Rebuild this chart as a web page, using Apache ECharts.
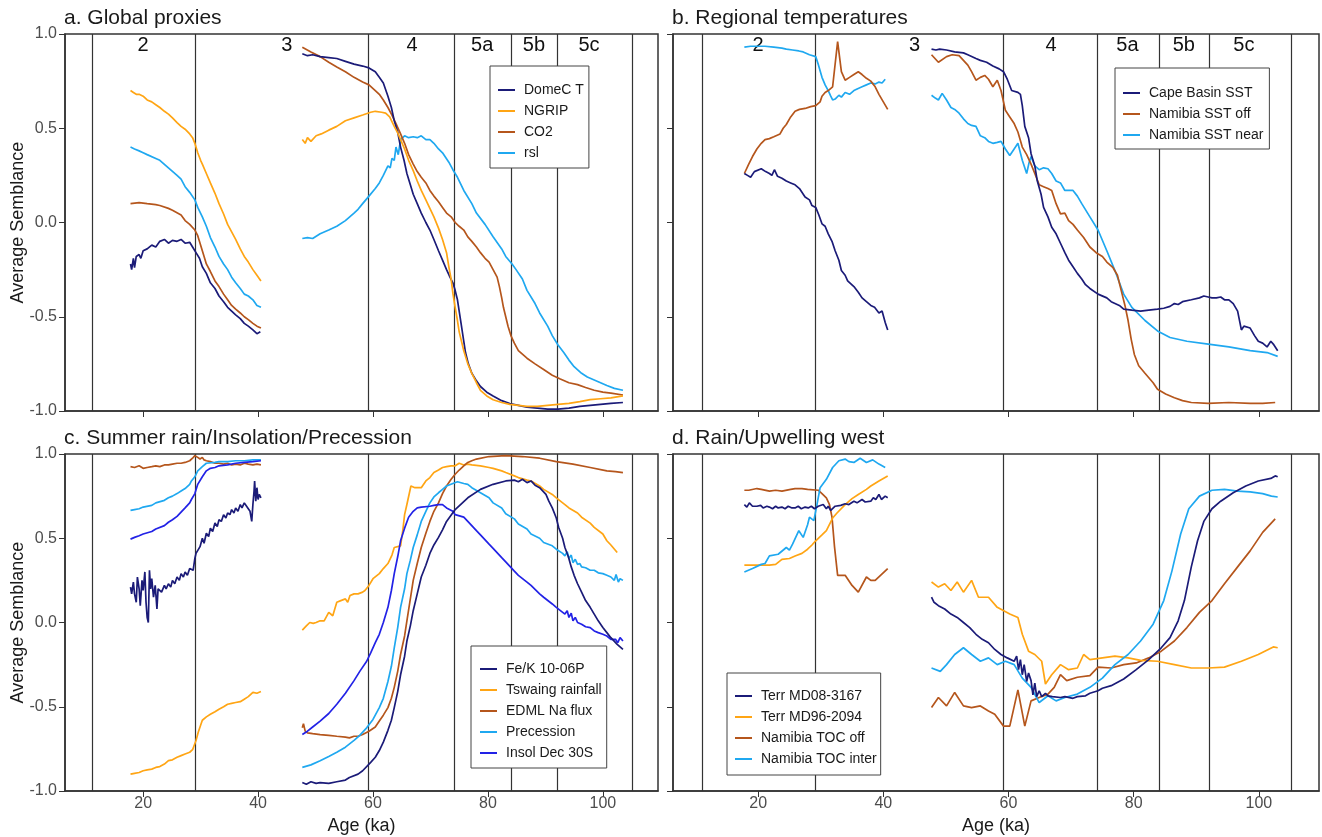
<!DOCTYPE html>
<html><head><meta charset="utf-8">
<script src="https://cdn.jsdelivr.net/npm/echarts@6/dist/echarts.min.js"></script>
<style>html,body{margin:0;padding:0;background:#fff}#c{width:1322px;height:837px}</style>
</head><body><div id="c"></div>
<script>
// ---------- tick labels / stage marks ----------
const xTicks = [20, 40, 60, 80, 100];
const stageLines = [11.1, 29.1, 59.2, 74.1, 84.1, 92.1, 105.2];
const stageNames = ['2', '3', '4', '5a', '5b', '5c'];
const stageLabelX = [20, 45, 66.8, 79, 88, 97.6];

// ---------- a. Global proxies ----------
const domeC1 = [[17.8,-0.22],[18.0,-0.25],[18.3,-0.19],[18.5,-0.24],[18.8,-0.18],[19.3,-0.17],[19.6,-0.19],[20.0,-0.15],[20.7,-0.14],[21.5,-0.12],[22.2,-0.13],[22.9,-0.10],[23.7,-0.09],[24.4,-0.11],[25.1,-0.095],[25.9,-0.10],[26.6,-0.09],[27.3,-0.11],[28.1,-0.105],[28.6,-0.13],[29.2,-0.16],[29.8,-0.19],[30.3,-0.235],[31.0,-0.27],[31.7,-0.32],[32.5,-0.35],[33.2,-0.39],[34.0,-0.42],[34.7,-0.45],[35.4,-0.47],[36.1,-0.49],[36.9,-0.51],[37.6,-0.535],[38.3,-0.55],[39.1,-0.57],[39.8,-0.59],[40.4,-0.58]];
const domeC2 = [[47.7,0.895],[48.6,0.885],[49.5,0.89],[50.8,0.88],[52.3,0.875],[53.7,0.87],[55.2,0.855],[56.7,0.84],[58.2,0.83],[59.3,0.82],[60.4,0.80],[61.1,0.77],[61.8,0.74],[62.6,0.67],[63.2,0.61],[63.7,0.54],[64.3,0.48],[64.8,0.40],[65.4,0.33],[65.9,0.26],[66.5,0.20],[67.0,0.15],[67.7,0.10],[68.4,0.05],[69.2,0.0],[69.9,-0.04],[70.6,-0.09],[71.4,-0.15],[72.1,-0.20],[72.8,-0.25],[73.4,-0.29],[73.9,-0.32],[74.3,-0.36],[74.7,-0.41],[75.0,-0.47],[75.4,-0.55],[75.8,-0.63],[76.1,-0.69],[76.6,-0.75],[77.2,-0.80],[78.0,-0.84],[78.7,-0.87],[79.8,-0.90],[80.9,-0.92],[82.4,-0.945],[83.8,-0.96],[85.3,-0.97],[86.8,-0.98],[88.6,-0.985],[90.4,-0.99],[92.2,-0.99],[94.1,-0.985],[96.0,-0.975],[97.8,-0.97],[99.6,-0.965],[101.4,-0.96],[103.5,-0.955]];
const ngrip1 = [[17.8,0.70],[18.3,0.69],[18.8,0.68],[19.3,0.68],[20.0,0.67],[20.7,0.65],[21.5,0.64],[22.2,0.625],[22.9,0.61],[23.7,0.59],[24.4,0.575],[25.1,0.555],[25.9,0.53],[26.6,0.51],[27.3,0.495],[28.1,0.47],[28.6,0.45],[29.0,0.42],[29.5,0.37],[30.0,0.33],[30.3,0.31],[31.0,0.26],[31.7,0.21],[32.5,0.155],[33.2,0.10],[34.0,0.045],[34.7,-0.01],[35.4,-0.05],[36.1,-0.09],[36.9,-0.14],[37.6,-0.18],[38.3,-0.21],[39.1,-0.25],[39.8,-0.28],[40.5,-0.31]];
const ngrip2 = [[47.7,0.44],[48.2,0.42],[48.6,0.45],[49.2,0.43],[50.1,0.46],[51.0,0.47],[52.3,0.49],[53.7,0.51],[55.2,0.54],[56.7,0.555],[58.2,0.57],[59.6,0.585],[60.4,0.59],[61.5,0.585],[62.2,0.58],[62.9,0.56],[63.7,0.51],[64.3,0.475],[64.8,0.44],[65.5,0.39],[66.2,0.33],[67.0,0.275],[67.7,0.22],[68.4,0.17],[69.2,0.12],[69.9,0.075],[70.6,0.03],[71.4,-0.03],[72.1,-0.09],[72.8,-0.16],[73.2,-0.235],[73.6,-0.30],[73.9,-0.375],[74.3,-0.45],[74.7,-0.52],[75.0,-0.58],[75.8,-0.68],[76.5,-0.75],[77.2,-0.80],[78.0,-0.85],[78.7,-0.89],[79.8,-0.92],[80.9,-0.94],[82.4,-0.955],[83.8,-0.965],[86.8,-0.975],[88.6,-0.975],[90.4,-0.97],[92.2,-0.965],[94.1,-0.96],[96.0,-0.95],[97.8,-0.94],[99.6,-0.935],[101.4,-0.93],[103.5,-0.92]];
const co2_1 = [[17.8,0.10],[19.3,0.105],[20.7,0.10],[22.2,0.095],[22.9,0.09],[24.4,0.075],[25.1,0.065],[26.6,0.04],[27.3,0.01],[28.1,-0.01],[29.0,-0.04],[29.5,-0.07],[29.9,-0.11],[30.3,-0.15],[31.0,-0.22],[31.7,-0.26],[32.5,-0.31],[33.2,-0.34],[34.0,-0.38],[34.7,-0.41],[35.4,-0.44],[36.1,-0.46],[36.9,-0.48],[37.6,-0.50],[38.3,-0.515],[39.1,-0.535],[39.8,-0.55],[40.5,-0.56]];
const co2_2 = [[47.7,0.93],[49.2,0.905],[50.8,0.88],[52.3,0.85],[53.7,0.825],[55.2,0.80],[56.7,0.77],[58.2,0.745],[59.3,0.73],[60.4,0.70],[61.1,0.68],[61.8,0.65],[62.6,0.61],[63.3,0.57],[64.0,0.525],[64.8,0.47],[65.5,0.42],[66.2,0.36],[67.0,0.31],[67.7,0.27],[68.4,0.24],[69.2,0.21],[69.9,0.17],[70.6,0.14],[71.4,0.11],[72.1,0.08],[72.8,0.05],[73.6,0.03],[74.3,0.0],[75.0,-0.02],[75.8,-0.04],[76.5,-0.076],[77.2,-0.10],[78.0,-0.13],[78.7,-0.16],[79.5,-0.19],[80.2,-0.21],[80.9,-0.25],[81.6,-0.29],[82.0,-0.34],[82.4,-0.40],[82.7,-0.45],[83.1,-0.50],[83.5,-0.55],[84.0,-0.60],[84.6,-0.64],[85.3,-0.68],[86.8,-0.72],[88.2,-0.75],[89.7,-0.78],[91.2,-0.81],[92.6,-0.83],[94.1,-0.85],[95.6,-0.86],[97.0,-0.875],[98.5,-0.89],[100.0,-0.90],[101.4,-0.905],[103.5,-0.915]];
const rsl1 = [[17.8,0.40],[18.5,0.39],[19.3,0.38],[20.0,0.37],[20.7,0.36],[22.2,0.34],[22.9,0.33],[24.4,0.29],[25.9,0.25],[26.6,0.23],[27.3,0.19],[28.1,0.16],[29.0,0.12],[29.5,0.08],[30.3,0.03],[31.0,-0.02],[31.7,-0.08],[32.5,-0.13],[33.2,-0.18],[34.0,-0.22],[34.7,-0.25],[35.4,-0.29],[36.1,-0.32],[36.9,-0.35],[37.6,-0.38],[38.3,-0.39],[39.1,-0.41],[39.8,-0.44],[40.5,-0.45]];
const rsl2 = [[47.7,-0.085],[48.6,-0.08],[49.5,-0.085],[50.8,-0.06],[52.3,-0.04],[53.7,-0.02],[55.2,0.01],[56.7,0.05],[57.4,0.07],[58.2,0.10],[59.3,0.14],[60.4,0.18],[61.1,0.21],[61.8,0.25],[62.6,0.30],[63.0,0.29],[63.3,0.34],[63.7,0.33],[64.0,0.40],[64.4,0.36],[64.8,0.44],[65.5,0.46],[66.2,0.45],[67.0,0.455],[67.7,0.45],[68.4,0.46],[69.2,0.44],[69.9,0.44],[70.6,0.42],[71.4,0.39],[72.1,0.37],[73.2,0.32],[73.9,0.28],[74.7,0.24],[75.8,0.17],[77.2,0.10],[78.0,0.05],[79.5,-0.01],[80.9,-0.076],[82.4,-0.14],[83.1,-0.18],[84.2,-0.22],[84.9,-0.25],[86.0,-0.30],[86.8,-0.36],[88.2,-0.43],[89.0,-0.48],[90.4,-0.55],[91.2,-0.60],[92.2,-0.65],[93.2,-0.69],[94.1,-0.73],[95.0,-0.765],[96.3,-0.80],[97.3,-0.82],[99.2,-0.845],[100.7,-0.865],[102.0,-0.88],[103.5,-0.89]];

// ---------- b. Regional temperatures ----------
const cape1 = [[17.8,0.26],[18.3,0.25],[18.8,0.24],[19.4,0.27],[20.5,0.285],[21.2,0.27],[21.8,0.26],[22.2,0.25],[22.6,0.28],[23.1,0.245],[23.8,0.235],[24.5,0.22],[25.2,0.21],[25.9,0.20],[26.6,0.18],[27.5,0.135],[28.2,0.12],[28.6,0.09],[29.2,0.08],[29.7,0.04],[30.2,-0.007],[30.7,-0.02],[31.2,-0.06],[31.8,-0.10],[32.3,-0.15],[32.9,-0.20],[33.3,-0.255],[33.9,-0.28],[34.3,-0.31],[35.3,-0.34],[36.0,-0.37],[36.6,-0.40],[37.3,-0.42],[38.0,-0.44],[38.6,-0.45],[39.3,-0.48],[39.8,-0.47],[40.3,-0.53],[40.7,-0.57]];
const cape2 = [[47.7,0.92],[48.4,0.915],[49.0,0.92],[50.1,0.915],[51.4,0.905],[52.8,0.90],[53.5,0.89],[54.8,0.87],[55.5,0.86],[56.5,0.85],[57.5,0.83],[58.5,0.815],[59.2,0.80],[59.8,0.76],[60.5,0.70],[61.5,0.69],[61.9,0.68],[62.2,0.62],[62.6,0.51],[63.2,0.45],[63.6,0.365],[64.2,0.30],[64.6,0.22],[65.2,0.15],[65.6,0.08],[66.3,0.03],[66.9,-0.025],[67.6,-0.06],[68.3,-0.11],[69.0,-0.16],[69.6,-0.20],[70.3,-0.235],[71.0,-0.27],[71.7,-0.30],[72.3,-0.33],[73.0,-0.35],[74.3,-0.38],[75.7,-0.40],[76.4,-0.42],[77.7,-0.44],[78.4,-0.46],[79.7,-0.465],[81.1,-0.47],[82.4,-0.465],[83.8,-0.46],[84.8,-0.455],[85.8,-0.445],[86.5,-0.43],[87.1,-0.435],[87.8,-0.42],[89.2,-0.41],[90.5,-0.40],[91.2,-0.39],[91.9,-0.395],[92.5,-0.40],[93.2,-0.40],[93.9,-0.395],[94.5,-0.41],[95.2,-0.41],[95.9,-0.43],[96.6,-0.47],[97.2,-0.57],[97.6,-0.55],[97.9,-0.56],[98.6,-0.56],[99.3,-0.60],[99.9,-0.63],[100.6,-0.64],[101.3,-0.66],[101.9,-0.63],[102.3,-0.645],[103.0,-0.68]];
const sstOff1 = [[17.8,0.26],[18.5,0.31],[19.1,0.35],[19.8,0.39],[20.5,0.42],[21.1,0.44],[21.8,0.445],[22.5,0.455],[23.5,0.47],[24.0,0.50],[24.5,0.52],[25.2,0.56],[25.9,0.59],[26.6,0.60],[27.5,0.605],[28.4,0.615],[29.2,0.62],[29.9,0.64],[30.2,0.67],[30.7,0.69],[31.2,0.70],[31.9,0.72],[32.7,0.96],[33.3,0.80],[33.9,0.755],[34.6,0.77],[35.3,0.785],[36.0,0.80],[36.6,0.785],[37.3,0.765],[38.0,0.75],[38.7,0.72],[39.3,0.68],[40.0,0.64],[40.7,0.60]];
const sstOff2 = [[47.7,0.89],[48.8,0.85],[50.1,0.88],[51.0,0.89],[52.1,0.885],[52.8,0.86],[53.5,0.835],[54.1,0.80],[54.8,0.755],[55.5,0.77],[56.2,0.78],[56.8,0.76],[57.5,0.72],[58.2,0.755],[58.8,0.70],[59.5,0.595],[60.2,0.56],[60.9,0.525],[61.5,0.48],[62.2,0.40],[62.9,0.36],[63.6,0.31],[64.2,0.26],[64.9,0.20],[65.6,0.19],[66.3,0.18],[66.9,0.17],[67.6,0.10],[68.3,0.046],[69.0,0.05],[69.6,0.01],[70.3,-0.01],[71.0,-0.04],[72.0,-0.08],[73.0,-0.13],[74.0,-0.16],[75.0,-0.18],[75.7,-0.21],[76.7,-0.24],[77.4,-0.28],[78.0,-0.36],[78.6,-0.44],[79.1,-0.52],[79.6,-0.62],[80.1,-0.70],[80.8,-0.76],[81.8,-0.80],[83.1,-0.85],[83.8,-0.885],[85.1,-0.91],[86.5,-0.93],[87.8,-0.945],[89.2,-0.955],[91.9,-0.96],[95.2,-0.955],[98.6,-0.96],[100.6,-0.96],[102.6,-0.955]];
const sstNear1 = [[17.8,0.93],[18.8,0.935],[19.8,0.935],[21.1,0.935],[22.5,0.93],[23.8,0.925],[24.5,0.92],[25.5,0.915],[26.5,0.91],[27.2,0.905],[28.2,0.89],[29.2,0.88],[29.6,0.84],[30.2,0.77],[30.7,0.73],[31.2,0.70],[31.6,0.67],[31.9,0.65],[32.3,0.655],[32.9,0.675],[33.3,0.665],[33.9,0.69],[34.6,0.68],[35.3,0.70],[35.9,0.71],[36.6,0.72],[37.3,0.73],[38.0,0.74],[38.7,0.735],[39.3,0.745],[39.8,0.74],[40.3,0.76]];
const sstNear2 = [[47.7,0.675],[48.3,0.66],[48.8,0.65],[49.4,0.685],[50.1,0.65],[50.8,0.61],[51.4,0.60],[52.1,0.58],[52.8,0.55],[53.5,0.525],[54.1,0.515],[54.8,0.51],[55.5,0.46],[56.2,0.45],[56.8,0.43],[57.5,0.42],[58.2,0.425],[58.8,0.43],[59.5,0.39],[60.2,0.355],[60.9,0.39],[61.5,0.42],[62.2,0.33],[62.9,0.26],[63.3,0.32],[63.6,0.35],[64.2,0.30],[64.9,0.28],[65.6,0.29],[66.3,0.285],[66.9,0.26],[67.6,0.22],[68.3,0.21],[69.0,0.17],[70.3,0.17],[71.0,0.14],[71.7,0.10],[73.0,0.03],[74.3,-0.04],[75.7,-0.15],[77.0,-0.255],[78.4,-0.38],[79.7,-0.45],[81.8,-0.52],[83.8,-0.575],[85.8,-0.61],[88.5,-0.63],[91.9,-0.645],[95.2,-0.66],[98.6,-0.68],[101.3,-0.69],[103.0,-0.71]];

// ---------- c. Summer rain / Insolation / Precession ----------
const feK1 = [[17.8,0.21],[18.0,0.17],[18.3,0.24],[18.5,0.17],[18.8,0.12],[19.0,0.27],[19.3,0.20],[19.5,0.10],[19.8,0.25],[20.0,0.19],[20.3,0.30],[20.5,0.12],[20.7,0.03],[20.9,0.0],[21.1,0.31],[21.3,0.20],[21.5,0.26],[21.8,0.15],[22.1,0.22],[22.4,0.08],[22.6,0.20],[22.9,0.21],[23.2,0.18],[23.7,0.22],[24.0,0.20],[24.4,0.23],[24.8,0.21],[25.1,0.25],[25.5,0.23],[25.9,0.27],[26.3,0.25],[26.6,0.29],[27.0,0.27],[27.3,0.30],[27.7,0.28],[28.1,0.32],[28.4,0.33],[28.7,0.31],[29.0,0.38],[29.2,0.41],[29.5,0.40],[29.9,0.45],[30.3,0.50],[30.6,0.47],[31.0,0.53],[31.4,0.51],[31.7,0.56],[32.1,0.54],[32.5,0.59],[32.9,0.57],[33.2,0.61],[33.6,0.60],[34.0,0.64],[34.4,0.62],[34.7,0.65],[35.1,0.64],[35.4,0.67],[35.8,0.65],[36.1,0.68],[36.5,0.66],[36.9,0.70],[37.2,0.68],[37.6,0.71],[38.0,0.69],[38.3,0.70],[38.6,0.66],[38.9,0.60],[39.1,0.70],[39.3,0.78],[39.4,0.84],[39.6,0.72],[39.8,0.80],[40.0,0.73],[40.2,0.76],[40.5,0.74]];
const feK2 = [[47.7,-0.95],[48.4,-0.96],[49.2,-0.945],[50.1,-0.955],[50.8,-0.95],[52.3,-0.955],[53.7,-0.945],[55.2,-0.935],[55.9,-0.92],[57.4,-0.90],[58.2,-0.88],[59.6,-0.83],[60.4,-0.80],[61.1,-0.76],[61.8,-0.71],[62.6,-0.64],[63.2,-0.58],[63.7,-0.505],[64.3,-0.41],[64.8,-0.31],[65.5,-0.20],[65.9,-0.11],[66.5,-0.02],[67.0,0.07],[67.7,0.17],[68.4,0.27],[69.2,0.34],[69.9,0.41],[70.6,0.46],[71.4,0.505],[72.1,0.55],[72.8,0.60],[74.3,0.67],[76.5,0.74],[78.7,0.79],[80.9,0.82],[83.1,0.84],[84.6,0.845],[85.3,0.835],[86.0,0.85],[86.8,0.83],[87.5,0.84],[88.2,0.815],[89.0,0.80],[90.1,0.76],[90.6,0.72],[91.2,0.68],[91.9,0.62],[92.3,0.565],[93.0,0.50],[93.4,0.445],[94.0,0.39],[94.5,0.33],[95.0,0.28],[95.6,0.23],[96.3,0.18],[97.0,0.13],[97.8,0.09],[98.5,0.05],[99.2,0.01],[100.0,-0.03],[100.7,-0.06],[101.4,-0.09],[102.5,-0.13],[103.5,-0.16]];
const tswaing1 = [[17.8,-0.90],[18.5,-0.895],[19.3,-0.89],[20.0,-0.88],[20.7,-0.875],[21.5,-0.87],[22.2,-0.86],[22.9,-0.855],[23.7,-0.84],[24.4,-0.82],[25.1,-0.815],[25.9,-0.80],[26.6,-0.79],[27.3,-0.78],[28.1,-0.77],[28.6,-0.755],[29.2,-0.70],[29.6,-0.65],[30.0,-0.61],[30.3,-0.58],[31.0,-0.56],[31.7,-0.545],[32.5,-0.53],[33.2,-0.515],[34.0,-0.50],[34.7,-0.485],[35.4,-0.48],[36.1,-0.475],[36.9,-0.47],[37.6,-0.455],[38.3,-0.44],[39.1,-0.415],[39.8,-0.42],[40.5,-0.41]];
const tswaing2 = [[47.7,-0.045],[48.4,-0.02],[49.0,0.0],[49.6,-0.005],[50.1,0.0],[50.8,0.01],[51.5,0.01],[52.3,0.06],[53.0,0.04],[53.7,0.12],[54.4,0.13],[55.2,0.14],[55.6,0.12],[56.0,0.16],[56.7,0.17],[57.4,0.17],[58.2,0.18],[58.6,0.19],[59.3,0.22],[60.0,0.26],[61.1,0.29],[61.8,0.32],[62.6,0.35],[63.3,0.40],[63.7,0.445],[64.8,0.455],[65.2,0.55],[65.5,0.64],[65.9,0.70],[66.6,0.81],[67.3,0.80],[68.4,0.80],[69.2,0.84],[69.9,0.86],[70.6,0.89],[71.4,0.905],[72.1,0.92],[72.8,0.925],[73.6,0.93],[74.3,0.93],[75.0,0.945],[75.8,0.935],[76.5,0.94],[77.2,0.935],[78.7,0.93],[80.2,0.92],[80.9,0.915],[82.4,0.90],[83.1,0.89],[84.6,0.87],[85.3,0.86],[86.8,0.845],[87.5,0.84],[89.0,0.81],[89.7,0.79],[91.2,0.76],[91.9,0.74],[93.4,0.70],[94.1,0.68],[95.6,0.65],[96.3,0.625],[97.8,0.59],[98.5,0.565],[100.0,0.525],[100.7,0.485],[101.4,0.46],[102.5,0.415]];
const edml1 = [[17.8,0.925],[18.5,0.92],[19.3,0.93],[20.0,0.915],[20.7,0.92],[21.5,0.925],[22.2,0.93],[22.9,0.925],[23.7,0.935],[24.4,0.935],[25.1,0.94],[25.9,0.945],[26.6,0.945],[27.3,0.95],[28.1,0.96],[28.6,0.975],[29.0,0.99],[29.2,0.985],[29.5,0.98],[29.9,0.97],[30.3,0.98],[30.6,0.965],[31.0,0.96],[31.7,0.955],[32.5,0.945],[33.2,0.945],[34.0,0.94],[34.7,0.945],[35.4,0.935],[36.1,0.94],[36.9,0.935],[37.6,0.945],[38.3,0.94],[39.1,0.935],[39.8,0.94],[40.5,0.935]];
const edml2 = [[47.7,-0.625],[47.9,-0.60],[48.2,-0.645],[48.6,-0.655],[49.5,-0.66],[50.8,-0.665],[52.3,-0.67],[53.7,-0.675],[55.2,-0.68],[55.9,-0.685],[56.7,-0.675],[57.4,-0.675],[58.2,-0.665],[59.3,-0.645],[60.4,-0.62],[61.1,-0.585],[61.8,-0.55],[62.6,-0.505],[63.2,-0.45],[63.7,-0.385],[64.3,-0.29],[64.8,-0.19],[65.5,-0.08],[65.9,0.01],[66.5,0.14],[67.0,0.25],[67.7,0.35],[68.4,0.445],[69.2,0.53],[69.9,0.60],[70.6,0.66],[71.4,0.71],[72.1,0.765],[72.8,0.81],[73.6,0.85],[74.3,0.88],[75.0,0.905],[75.8,0.93],[76.5,0.95],[77.2,0.96],[78.0,0.97],[80.2,0.985],[83.1,0.99],[86.0,0.985],[89.0,0.975],[91.9,0.955],[94.8,0.94],[97.8,0.92],[100.7,0.90],[102.2,0.895],[103.5,0.89]];
const prec1 = [[17.8,0.665],[18.5,0.67],[19.3,0.675],[20.0,0.685],[21.5,0.695],[22.2,0.71],[23.7,0.725],[24.4,0.74],[25.1,0.75],[25.9,0.765],[26.6,0.78],[27.3,0.795],[28.1,0.82],[28.4,0.84],[29.0,0.865],[29.5,0.90],[30.3,0.925],[31.0,0.945],[32.5,0.95],[33.2,0.955],[34.7,0.955],[36.1,0.96],[37.6,0.96],[39.1,0.965],[40.5,0.965]];
const prec2 = [[47.7,-0.86],[49.2,-0.845],[50.8,-0.82],[52.3,-0.795],[53.7,-0.77],[55.2,-0.74],[56.7,-0.70],[57.7,-0.67],[58.9,-0.625],[60.0,-0.575],[61.1,-0.505],[61.8,-0.45],[62.6,-0.35],[63.2,-0.26],[63.7,-0.15],[64.3,-0.03],[64.8,0.09],[65.5,0.20],[65.9,0.29],[66.5,0.37],[67.0,0.445],[67.7,0.52],[68.4,0.60],[69.2,0.66],[69.9,0.71],[70.6,0.745],[71.4,0.77],[72.1,0.79],[72.8,0.81],[73.9,0.825],[74.7,0.835],[75.8,0.825],[76.5,0.82],[77.2,0.80],[78.7,0.77],[80.2,0.74],[80.9,0.71],[82.4,0.68],[83.1,0.645],[84.6,0.615],[85.3,0.585],[86.8,0.555],[87.5,0.525],[89.0,0.50],[89.7,0.475],[91.2,0.455],[91.9,0.435],[93.0,0.41],[93.4,0.395],[93.8,0.42],[94.1,0.38],[94.5,0.40],[94.8,0.355],[95.2,0.375],[95.6,0.345],[96.0,0.35],[96.3,0.33],[97.0,0.325],[97.8,0.31],[98.5,0.31],[99.2,0.295],[100.0,0.29],[100.7,0.28],[101.4,0.27],[102.0,0.25],[102.3,0.285],[102.7,0.24],[103.0,0.26],[103.5,0.25]];
const insol1 = [[17.8,0.495],[18.5,0.505],[19.3,0.515],[20.0,0.525],[21.5,0.54],[22.2,0.555],[23.7,0.575],[24.4,0.595],[25.1,0.61],[25.9,0.63],[26.6,0.655],[27.3,0.68],[28.1,0.71],[28.4,0.73],[29.0,0.765],[29.5,0.82],[30.3,0.865],[31.0,0.90],[31.7,0.915],[32.5,0.92],[33.2,0.93],[34.7,0.935],[36.1,0.945],[37.6,0.95],[39.1,0.955],[40.5,0.96]];
const insol2 = [[47.7,-0.665],[48.6,-0.645],[49.5,-0.62],[50.8,-0.585],[52.3,-0.54],[53.7,-0.485],[55.2,-0.42],[56.7,-0.345],[57.7,-0.29],[58.9,-0.23],[59.6,-0.18],[60.4,-0.12],[61.1,-0.07],[61.8,0.0],[62.6,0.09],[63.2,0.19],[63.7,0.29],[64.3,0.39],[64.8,0.485],[65.5,0.56],[66.2,0.625],[67.0,0.66],[67.7,0.68],[68.4,0.685],[69.9,0.69],[70.6,0.695],[71.4,0.70],[72.1,0.70],[72.8,0.68],[73.9,0.66],[74.3,0.64],[75.8,0.625],[76.5,0.60],[78.0,0.545],[78.7,0.52],[80.2,0.465],[80.9,0.44],[82.4,0.385],[83.1,0.36],[84.6,0.305],[85.3,0.28],[86.8,0.24],[87.5,0.22],[89.0,0.17],[89.7,0.15],[91.2,0.11],[91.9,0.09],[93.4,0.05],[93.8,0.07],[94.1,0.03],[94.5,0.055],[94.8,0.01],[95.2,0.03],[95.6,0.0],[96.3,-0.01],[97.0,-0.025],[97.8,-0.03],[98.5,-0.05],[99.2,-0.06],[100.0,-0.07],[100.7,-0.08],[101.4,-0.10],[102.2,-0.10],[102.6,-0.12],[103.0,-0.09],[103.5,-0.11]];

// ---------- d. Rain / Upwelling west ----------
const md08_1 = [[17.8,0.70],[18.2,0.685],[18.6,0.71],[19.1,0.69],[19.8,0.69],[20.4,0.695],[20.8,0.68],[21.4,0.69],[21.8,0.685],[22.3,0.675],[22.8,0.69],[23.2,0.68],[23.8,0.685],[24.3,0.675],[24.8,0.69],[25.4,0.68],[25.9,0.68],[26.4,0.69],[26.9,0.675],[27.5,0.685],[28.0,0.68],[28.5,0.69],[29.0,0.675],[29.6,0.69],[29.9,0.68],[30.4,0.70],[30.9,0.675],[31.2,0.69],[31.6,0.665],[31.9,0.67],[32.3,0.69],[32.6,0.685],[33.2,0.695],[33.9,0.705],[34.5,0.70],[35.3,0.72],[35.8,0.71],[36.6,0.73],[37.1,0.715],[38.0,0.72],[38.4,0.74],[38.8,0.73],[39.3,0.76],[39.7,0.73],[40.3,0.75],[40.7,0.74]];
const md08_2 = [[47.7,0.15],[48.1,0.12],[48.8,0.10],[49.8,0.08],[50.8,0.05],[51.8,0.03],[52.8,0.0],[53.8,-0.03],[54.8,-0.07],[55.8,-0.10],[56.8,-0.12],[57.8,-0.16],[58.8,-0.19],[59.8,-0.21],[60.9,-0.23],[61.3,-0.20],[61.6,-0.28],[61.9,-0.22],[62.2,-0.31],[62.5,-0.25],[62.9,-0.35],[63.2,-0.30],[63.6,-0.345],[63.9,-0.43],[64.2,-0.36],[64.5,-0.44],[64.9,-0.405],[65.3,-0.44],[65.9,-0.42],[66.3,-0.435],[67.0,-0.44],[68.3,-0.445],[69.0,-0.44],[70.3,-0.45],[71.0,-0.44],[72.3,-0.435],[73.0,-0.42],[74.3,-0.405],[75.0,-0.39],[76.4,-0.375],[78.4,-0.335],[80.4,-0.28],[82.4,-0.22],[84.4,-0.15],[85.8,-0.09],[87.1,0.01],[88.1,0.13],[89.2,0.33],[90.2,0.485],[91.2,0.60],[92.5,0.675],[93.9,0.72],[95.9,0.77],[97.9,0.81],[99.9,0.84],[101.9,0.855],[102.6,0.87],[103.0,0.865]];
const md96_1 = [[17.8,0.34],[19.8,0.34],[21.8,0.34],[22.8,0.345],[23.8,0.375],[25.0,0.38],[25.9,0.395],[27.0,0.41],[27.9,0.435],[28.6,0.46],[29.2,0.485],[30.2,0.52],[30.9,0.545],[31.9,0.62],[32.6,0.65],[33.9,0.70],[35.0,0.735],[36.0,0.76],[37.3,0.79],[38.0,0.81],[39.3,0.84],[40.7,0.87]];
const md96_2 = [[47.7,0.24],[48.8,0.21],[49.8,0.23],[50.8,0.19],[51.8,0.24],[52.8,0.18],[54.1,0.25],[55.2,0.15],[56.8,0.15],[58.2,0.09],[60.2,0.05],[61.5,0.03],[62.2,-0.07],[63.2,-0.17],[64.2,-0.19],[65.3,-0.23],[65.9,-0.365],[66.9,-0.31],[68.3,-0.25],[69.6,-0.28],[71.0,-0.27],[72.0,-0.19],[73.0,-0.22],[75.0,-0.21],[77.0,-0.20],[79.1,-0.21],[81.1,-0.225],[83.8,-0.23],[86.5,-0.25],[89.2,-0.27],[91.9,-0.27],[94.5,-0.265],[97.2,-0.23],[99.9,-0.19],[102.3,-0.145],[103.0,-0.15]];
const tocOff1 = [[17.8,0.785],[18.5,0.785],[19.8,0.795],[20.5,0.79],[21.8,0.78],[22.8,0.785],[23.8,0.78],[25.2,0.79],[25.9,0.795],[27.0,0.795],[27.9,0.79],[29.6,0.785],[30.2,0.765],[30.9,0.74],[31.4,0.70],[31.8,0.625],[32.2,0.45],[32.7,0.28],[33.9,0.28],[35.0,0.22],[36.0,0.18],[37.3,0.27],[38.0,0.25],[38.7,0.25],[40.7,0.32]];
const tocOff2 = [[47.7,-0.505],[48.8,-0.445],[50.1,-0.495],[51.4,-0.415],[52.8,-0.495],[54.1,-0.505],[55.5,-0.495],[56.8,-0.525],[57.8,-0.545],[59.2,-0.615],[60.2,-0.615],[61.5,-0.40],[62.6,-0.615],[63.6,-0.465],[64.9,-0.445],[66.3,-0.425],[67.3,-0.385],[68.3,-0.31],[69.3,-0.345],[71.0,-0.325],[73.0,-0.315],[74.3,-0.265],[76.4,-0.27],[78.4,-0.25],[80.4,-0.24],[82.4,-0.21],[84.4,-0.17],[86.5,-0.11],[88.5,-0.03],[90.5,0.06],[92.5,0.13],[94.5,0.23],[96.6,0.33],[98.6,0.425],[100.6,0.535],[102.6,0.615]];
const tocInt1 = [[17.8,0.30],[19.1,0.32],[20.5,0.345],[21.1,0.35],[21.8,0.395],[23.2,0.405],[24.5,0.445],[25.0,0.43],[25.5,0.465],[26.5,0.545],[27.2,0.505],[27.9,0.58],[28.2,0.625],[28.9,0.605],[29.4,0.70],[29.9,0.80],[30.9,0.85],[31.9,0.92],[32.9,0.96],[33.9,0.97],[34.5,0.955],[35.3,0.95],[36.3,0.975],[37.3,0.95],[38.3,0.965],[39.3,0.94],[40.3,0.92]];
const tocInt2 = [[47.7,-0.27],[49.1,-0.29],[50.1,-0.25],[51.4,-0.19],[52.8,-0.15],[54.1,-0.19],[55.5,-0.23],[56.8,-0.21],[58.2,-0.25],[59.5,-0.23],[60.9,-0.25],[62.2,-0.33],[63.6,-0.385],[64.9,-0.475],[66.3,-0.435],[67.6,-0.465],[69.0,-0.445],[71.0,-0.425],[73.0,-0.385],[75.0,-0.33],[77.0,-0.25],[79.1,-0.19],[81.1,-0.11],[83.1,-0.01],[84.8,0.13],[86.1,0.305],[87.5,0.525],[88.8,0.675],[90.5,0.75],[92.5,0.785],[94.5,0.79],[96.6,0.78],[98.6,0.775],[100.6,0.765],[102.0,0.75],[103.0,0.745]];

// ---------- styling ----------
const FONT = 'Liberation Sans, Arial, sans-serif';
const NAVY = '#1b1b78', ORANGE = '#ffa514', BROWN = '#b5561c', SKY = '#1fa8f0', BLUE = '#2222e6';

const panels = [
  { title: 'a. Global proxies', grid: {left: 65, top: 34, width: 593, height: 377},
    series: [['rsl', SKY, [rsl1, rsl2]], ['CO2', BROWN, [co2_1, co2_2]], ['DomeC T', NAVY, [domeC1, domeC2]], ['NGRIP', ORANGE, [ngrip1, ngrip2]]],
    legendNames: ['DomeC T', 'NGRIP', 'CO2', 'rsl'], legendPos: {left: 490, top: 66, padding: [17, 5, 8, 8]} },
  { title: 'b. Regional temperatures', grid: {left: 673, top: 34, width: 646, height: 377},
    series: [['Namibia SST near', SKY, [sstNear1, sstNear2]], ['Namibia SST off', BROWN, [sstOff1, sstOff2]], ['Cape Basin SST', NAVY, [cape1, cape2]]],
    legendNames: ['Cape Basin SST', 'Namibia SST off', 'Namibia SST near'], legendPos: {left: 1115, top: 68, padding: [18, 6, 7, 8]} },
  { title: 'c. Summer rain/Insolation/Precession', grid: {left: 65, top: 454, width: 593, height: 337},
    series: [['Tswaing rainfall', ORANGE, [tswaing1, tswaing2]], ['EDML Na flux', BROWN, [edml1, edml2]], ['Precession', SKY, [prec1, prec2]], ['Insol Dec 30S', BLUE, [insol1, insol2]], ['Fe/K 10-06P', NAVY, [feK1, feK2]]],
    legendNames: ['Fe/K 10-06P', 'Tswaing rainfall', 'EDML Na flux', 'Precession', 'Insol Dec 30S'], legendPos: {left: 471, top: 646, padding: [16, 5, 8, 9]} },
  { title: 'd. Rain/Upwelling west', grid: {left: 673, top: 454, width: 646, height: 337},
    series: [['Namibia TOC off', BROWN, [tocOff1, tocOff2]], ['Terr MD96-2094', ORANGE, [md96_1, md96_2]], ['Namibia TOC inter', SKY, [tocInt1, tocInt2]], ['Terr MD08-3167', NAVY, [md08_1, md08_2]]],
    legendNames: ['Terr MD08-3167', 'Terr MD96-2094', 'Namibia TOC off', 'Namibia TOC inter'], legendPos: {left: 727, top: 673, padding: [16, 4, 9, 8]} }
];

const grid = [], xAxis = [], yAxis = [], series = [], legend = [], graphic = [];
panels.forEach((p, i) => {
  grid.push(Object.assign({show: true, borderColor: '#333', borderWidth: 1.5, backgroundColor: 'transparent', containLabel: false, outerBoundsMode: 'none'}, p.grid));
  xAxis.push({
    gridIndex: i, type: 'value', min: 6.4, max: 109.6,
    splitLine: {show: false},
    axisLine: {show: true, onZero: false, lineStyle: {color: '#333', width: 1.5}},
    axisTick: {show: true, customValues: xTicks, length: 6, lineStyle: {color: '#333'}},
    axisLabel: {show: i >= 2, customValues: xTicks, fontSize: 16, color: '#4d4d4d', fontFamily: FONT, margin: 5},
    name: i >= 2 ? 'Age (ka)' : '', nameLocation: 'middle', nameGap: 26,
    nameTextStyle: {fontSize: 18, color: '#1a1a1a', fontFamily: FONT}
  });
  yAxis.push({
    gridIndex: i, type: 'value', min: -1, max: 1, interval: 0.5,
    splitLine: {show: false},
    axisLine: {show: true, onZero: false, lineStyle: {color: '#333', width: 1.5}},
    axisTick: {show: true, length: 6, lineStyle: {color: '#333'}},
    axisLabel: {show: i % 2 === 0, fontSize: 16, color: '#4d4d4d', fontFamily: FONT, margin: 8, formatter: v => v.toFixed(1)}
  });
  let first = true;
  p.series.forEach(([name, color, segs]) => {
    segs.forEach(seg => {
      const s = {
        name, type: 'line', xAxisIndex: i, yAxisIndex: i, data: seg,
        symbol: 'none', showSymbol: false, animation: false, silent: true,
        lineStyle: {color, width: 1.7}, itemStyle: {color}, z: 3
      };
      if (first) {
        s.markLine = {silent: true, symbol: 'none', animation: false, label: {show: false},
          lineStyle: {color: '#333', width: 1.2, type: 'solid', opacity: 1}, z: 1,
          emphasis: {disabled: true},
          data: stageLines.map(v => ({xAxis: v}))};
        first = false;
      }
      series.push(s);
    });
  });
  if (i < 2) {
    series.push({
      type: 'scatter', name: 'stages' + i, xAxisIndex: i, yAxisIndex: i, silent: true, animation: false,
      symbolSize: 0.01, itemStyle: {color: '#111'},
      label: {show: true, position: 'inside', formatter: '{b}', fontSize: 20, color: '#111', opacity: 1, fontFamily: FONT},
      data: stageNames.map((n, k) => ({name: n, value: [stageLabelX[k], 0.94]}))
    });
  }
  legend.push(Object.assign({
    data: p.legendNames, orient: 'vertical', selectedMode: false,
    backgroundColor: '#fff', borderColor: '#444', borderWidth: 1, borderRadius: 0,
    itemGap: 7, itemWidth: 17, itemHeight: 2, icon: 'rect',
    textStyle: {fontSize: 14, fontFamily: FONT, color: '#1a1a1a', lineHeight: 14, padding: [0, 0, 0, 4]}
  }, p.legendPos));
  graphic.push({type: 'text', x: p.grid.left - 1, y: p.grid.top - 16, silent: true,
    style: {text: p.title, font: '21px ' + FONT, fill: '#1a1a1a', textAlign: 'left', textVerticalAlign: 'middle'}});
  if (i % 2 === 0) {
    graphic.push({type: 'text', x: 18, y: p.grid.top + p.grid.height / 2, rotation: Math.PI / 2, silent: true,
      style: {text: 'Average Semblance', font: '18px ' + FONT, fill: '#1a1a1a', textAlign: 'center', textVerticalAlign: 'middle'}});
  }
});

const chart = echarts.init(document.getElementById('c'), null, {renderer: 'canvas'});
chart.setOption({animation: false, backgroundColor: '#fff', grid, xAxis, yAxis, series, legend, graphic});
</script></body></html>
